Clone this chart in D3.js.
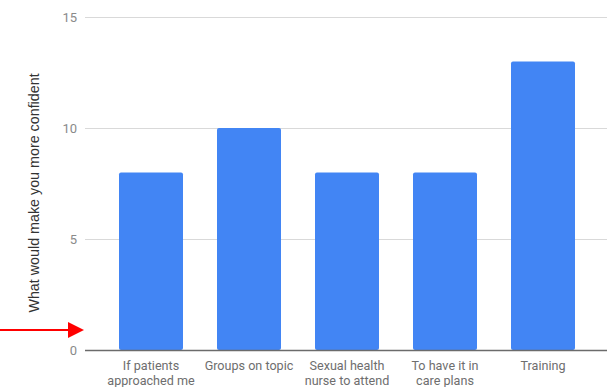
<!DOCTYPE html>
<html>
<head>
<meta charset="utf-8">
<script src="https://cdn.jsdelivr.net/npm/d3@7"></script>
<style>
  html, body { margin: 0; padding: 0; background: #fff; }
  svg { display: block; }
</style>
</head>
<body>
<svg id="chart" width="607" height="387"></svg>
<script>
// Responses: what would make staff more confident
const categories = [
  ["If patients", "approached me"],
  ["Groups on topic"],
  ["Sexual health", "nurse to attend"],
  ["To have it in", "care plans"],
  ["Training"]
];
const values = [8, 10, 8, 8, 13];
const yTicks = [0, 5, 10, 15];
const yTitle = "What would make you more confident";

const svg = d3.select("#chart");
const W = 607, H = 387;
const left = 85, zeroY = 350, topY = 17;

const y = d3.scaleLinear().domain([0, 15]).range([zeroY, topY]);
const x = d3.scaleBand()
  .domain(d3.range(categories.length))
  .range([102, 592])
  .paddingInner(0.347)
  .paddingOuter(0.1735);

// gridlines
svg.append("g").selectAll("line")
  .data(yTicks.filter(d => d !== 0))
  .join("line")
  .attr("x1", left).attr("x2", W)
  .attr("y1", d => Math.round(y(d)) + 0.5).attr("y2", d => Math.round(y(d)) + 0.5)
  .attr("stroke", "#d9d9d9").attr("stroke-width", 1);

// tick labels
svg.append("g").selectAll("text")
  .data(yTicks)
  .join("text")
  .attr("x", 77).attr("y", d => y(d))
  .attr("dy", "0.35em")
  .attr("text-anchor", "end")
  .attr("font-family", "Roboto, sans-serif")
  .attr("font-size", 13)
  .attr("fill", "#8a8a8a")
  .text(d => d);

// bars
svg.append("g").selectAll("rect")
  .data(values)
  .join("rect")
  .attr("x", (d, i) => x(i))
  .attr("y", d => y(d))
  .attr("width", x.bandwidth())
  .attr("height", d => zeroY - y(d))
  .attr("rx", 2).attr("ry", 2)
  .attr("fill", "#4285f4");

// baseline
svg.append("line")
  .attr("x1", left).attr("x2", W)
  .attr("y1", zeroY + 0.5).attr("y2", zeroY + 0.5)
  .attr("stroke", "#6b6b6b").attr("stroke-width", 1.5);

// category labels
const lab = svg.append("g").selectAll("text")
  .data(categories)
  .join("text")
  .attr("x", (d, i) => x(i) + x.bandwidth() / 2)
  .attr("y", 370)
  .attr("text-anchor", "middle")
  .attr("font-family", "Roboto, sans-serif")
  .attr("font-size", 12.6)
  .attr("fill", "#6e6e6e");
lab.selectAll("tspan")
  .data(d => d)
  .join("tspan")
  .attr("x", function() { return d3.select(this.parentNode).attr("x"); })
  .attr("dy", (d, i) => i === 0 ? 0 : 15)
  .text(d => d);

// y-axis title
svg.append("text")
  .attr("transform", "translate(39,193) rotate(-90)")
  .attr("text-anchor", "middle")
  .attr("font-family", "Liberation Sans, Arial, sans-serif")
  .attr("font-size", 14.3)
  .attr("fill", "#333")
  .text(yTitle);

// red pointer arrow
svg.append("line")
  .attr("x1", 0).attr("x2", 72)
  .attr("y1", 330).attr("y2", 330)
  .attr("stroke", "#ff0000").attr("stroke-width", 2);
svg.append("path")
  .attr("d", d3.line()([[68, 322], [84, 330], [68, 338]]) + "Z")
  .attr("fill", "#ff0000");
</script>
</body>
</html>
